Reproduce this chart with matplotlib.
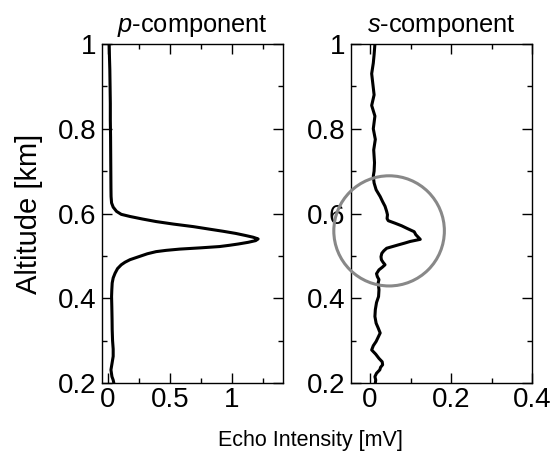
import matplotlib
matplotlib.use("Agg")
import matplotlib.pyplot as plt
from matplotlib.patches import Ellipse
from matplotlib.ticker import MultipleLocator

plt.rcParams['font.family'] = ['Liberation Sans', 'DejaVu Sans']
plt.rcParams['mathtext.fontset'] = 'custom'
plt.rcParams['mathtext.rm'] = 'Liberation Sans'
plt.rcParams['mathtext.it'] = 'Liberation Sans:italic'

# altitude [km] vs echo intensity [mV]
p_alt = [1.00, 0.97, 0.94, 0.90, 0.86, 0.82, 0.78, 0.74, 0.70, 0.66,
         0.64, 0.625, 0.615, 0.605, 0.598, 0.593, 0.587, 0.581, 0.575, 0.569,
         0.563, 0.558, 0.553, 0.548, 0.544, 0.540, 0.536, 0.532, 0.528, 0.525,
         0.522, 0.519, 0.516, 0.513, 0.510, 0.505, 0.499, 0.491, 0.485, 0.479,
         0.470, 0.459, 0.448, 0.436, 0.42, 0.404, 0.38, 0.35, 0.326, 0.30,
         0.28, 0.263, 0.245, 0.231, 0.215, 0.207, 0.200]
p_int = [0.013, 0.015, 0.018, 0.020, 0.022, 0.022, 0.024, 0.025, 0.026, 0.027,
         0.028, 0.032, 0.045, 0.072, 0.11, 0.18, 0.28, 0.39, 0.53, 0.69,
         0.82, 0.93, 1.03, 1.11, 1.17, 1.21, 1.19, 1.13, 1.05, 0.98,
         0.90, 0.75, 0.58, 0.47, 0.39, 0.32, 0.26, 0.18, 0.14, 0.11,
         0.08, 0.06, 0.045, 0.037, 0.034, 0.032, 0.034, 0.036, 0.037, 0.04,
         0.045, 0.045, 0.035, 0.027, 0.035, 0.045, 0.05]

s_alt = [1.00, 0.975, 0.955, 0.93, 0.905, 0.88, 0.855, 0.83, 0.80, 0.775,
         0.75, 0.72, 0.70, 0.688, 0.672, 0.656, 0.640, 0.628, 0.617, 0.605,
         0.597, 0.588, 0.583, 0.577, 0.571, 0.565, 0.557, 0.550, 0.546, 0.539,
         0.534, 0.530, 0.526, 0.518, 0.512, 0.506, 0.498, 0.491, 0.485, 0.479,
         0.473, 0.467, 0.458, 0.451, 0.444, 0.436, 0.42, 0.404, 0.39, 0.373,
         0.357, 0.341, 0.33, 0.318, 0.308, 0.298, 0.288, 0.278, 0.268, 0.258,
         0.25, 0.243, 0.237, 0.231, 0.223, 0.215, 0.207, 0.200]
s_int = [0.012, 0.010, 0.008, 0.004, 0.007, 0.010, 0.004, 0.012, 0.008, 0.013,
         0.009, 0.011, 0.010, 0.008, 0.010, 0.015, 0.025, 0.031, 0.037, 0.041,
         0.043, 0.042, 0.045, 0.062, 0.078, 0.091, 0.109, 0.113, 0.117, 0.124,
         0.099, 0.085, 0.070, 0.041, 0.034, 0.029, 0.027, 0.028, 0.032, 0.037,
         0.030, 0.022, 0.016, 0.018, 0.022, 0.020, 0.022, 0.021, 0.016, 0.013,
         0.012, 0.015, 0.020, 0.025, 0.020, 0.015, 0.008, 0.004, 0.014, 0.022,
         0.030, 0.031, 0.026, 0.024, 0.016, 0.012, 0.014, 0.013]

p_ticks = [0, 0.5, 1]
p_tick_labels = ["0", "0.5", "1"]
s_ticks = [0, 0.2, 0.4]
s_tick_labels = ["0", "0.2", "0.4"]
alt_ticks = [0.2, 0.4, 0.6, 0.8, 1.0]
alt_tick_labels = ["0.2", "0.4", "0.6", "0.8", "1"]

# highlighted region in s-component (centre, width, height in data units)
circle_xy = (0.047, 0.559)
circle_w, circle_h = 0.273, 0.26

fig = plt.figure(figsize=(5.57, 4.59), dpi=100)
ax1 = fig.add_axes([0.1831, 0.1656, 0.325, 0.7385])
ax2 = fig.add_axes([0.6302, 0.1656, 0.325, 0.7385])

ax1.plot(p_int, p_alt, color='black', lw=2.2)
ax2.plot(s_int, s_alt, color='black', lw=2.2)

ax2.add_patch(Ellipse(circle_xy, circle_w, circle_h, fill=False,
                      edgecolor='#888888', lw=2.2, clip_on=False, zorder=3))

for ax, xt, xl, minor in [(ax1, p_ticks, p_tick_labels, 0.25),
                          (ax2, s_ticks, s_tick_labels, 0.1)]:
    ax.set_ylim(0.2, 1.0)
    ax.set_xticks(xt)
    ax.set_xticklabels(xl)
    ax.xaxis.set_minor_locator(MultipleLocator(minor))
    ax.set_yticks(alt_ticks)
    ax.set_yticklabels(alt_tick_labels)
    ax.yaxis.set_minor_locator(MultipleLocator(0.1))
    ax.tick_params(which='both', direction='in', top=True, right=True,
                   labelsize=20, width=1.0)
    ax.tick_params(which='major', length=7)
    ax.tick_params(which='minor', length=3.5)
    ax.tick_params(axis='y', pad=4)
    ax.tick_params(axis='x', pad=3)
    for sp in ax.spines.values():
        sp.set_linewidth(1.0)

ax1.set_xlim(-0.045, 1.41)
ax2.set_xlim(-0.047, 0.40)

ax1.set_title("$\\it{p}$-component", fontsize=18.3, pad=9)
ax2.set_title("$\\it{s}$-component", fontsize=18.3, pad=9)
ax1.set_ylabel("Altitude [km]", fontsize=21, labelpad=11)
fig.text(0.557, 0.041, "Echo Intensity [mV]", fontsize=15.5, ha='center', va='center')

fig.savefig("out.png", dpi=100)
